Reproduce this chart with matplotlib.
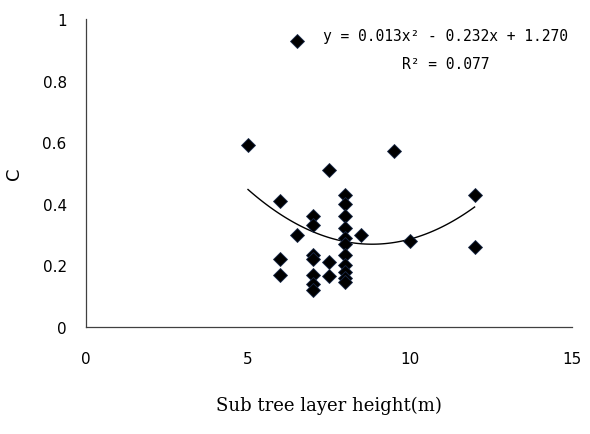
import numpy as np
from matplotlib import pyplot as plt

# sub tree layer height (m) and C values
height = [5,
          6, 6, 6,
          6.5, 6.5,
          7, 7, 7, 7, 7, 7, 7,
          7.5, 7.5, 7.5,
          8, 8, 8, 8, 8, 8, 8, 8, 8, 8, 8,
          8.5, 9.5, 10, 12, 12]
c_value = [0.59,
           0.41, 0.22, 0.17,
           0.93, 0.30,
           0.36, 0.33, 0.235, 0.22, 0.17, 0.14, 0.12,
           0.51, 0.21, 0.165,
           0.43, 0.40, 0.36, 0.32, 0.29, 0.27, 0.235, 0.20, 0.18, 0.16, 0.145,
           0.30, 0.57, 0.28, 0.43, 0.26]
x_ticks = [0, 5, 10, 15]
y_ticks = [0, 0.2, 0.4, 0.6, 0.8, 1]
equation = 'y = 0.013x\u00b2 - 0.232x + 1.270'
r_squared = 'R\u00b2 = 0.077'

fig = plt.figure(figsize=(5.9, 4.35), dpi=100)
ax = fig.add_axes([0.146, 0.246, 0.823, 0.708])

ax.plot(height, c_value, 'D', color='black', markersize=7.5,
        markeredgecolor='#1a2a4a', markeredgewidth=0.6, zorder=3)

# quadratic trend line fitted to the points
coef = np.polyfit(height, c_value, 2)
xs = np.linspace(min(height), max(height), 100)
ax.plot(xs, np.polyval(coef, xs), color='black', linewidth=1)

ax.set_xlim(0, 15)
ax.set_ylim(0, 1)
ax.set_xticks(x_ticks)
ax.set_xticklabels([str(t) for t in x_ticks])
ax.set_yticks(y_ticks)
ax.set_yticklabels(['%g' % t for t in y_ticks])
ax.tick_params(length=0, labelsize=11, pad=0)
ax.tick_params(axis='x', pad=17)
ax.tick_params(axis='y', pad=14)

for side in ['top', 'right']:
    ax.spines[side].set_visible(False)
for side in ['left', 'bottom']:
    ax.spines[side].set_color('#404040')
    ax.spines[side].set_linewidth(0.9)

ax.set_xlabel('Sub tree layer height(m)', family='DejaVu Serif',
              fontsize=13, labelpad=22)
ax.set_ylabel('C', fontsize=13, rotation=90)
ax.yaxis.set_label_coords(-0.13, 0.5)

ax.text(0.74, 0.945, equation, transform=ax.transAxes, ha='center',
        va='center', family='DejaVu Sans Mono', fontsize=10.5)
ax.text(0.74, 0.855, r_squared, transform=ax.transAxes, ha='center',
        va='center', family='DejaVu Sans Mono', fontsize=10.5)

plt.savefig('out.png', dpi=100)
